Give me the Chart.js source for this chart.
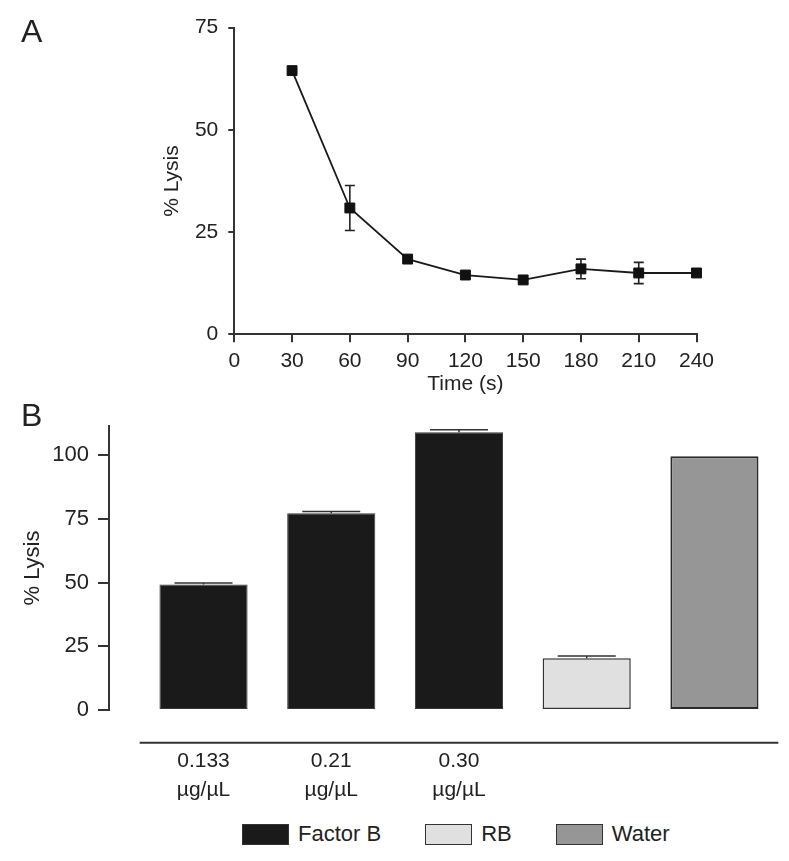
<!DOCTYPE html>
<html lang="en">
<head>
<meta charset="UTF-8">
<title>% Lysis</title>
<script src="https://cdn.jsdelivr.net/npm/chart.js"></script>
<style>
  body { margin: 0; background: #fff; font-family: 'Liberation Sans', Arial, sans-serif; color: #222; }
  .page { position: relative; width: 789px; height: 861px; overflow: hidden; }
  .panel-letter { position: absolute; left: 21px; font-size: 32px; line-height: 1; }
  #chartA { position: absolute; left: 0; top: 0; }
  #chartB { position: absolute; left: 0; top: 400px; }
  .legend { position: absolute; top: 821px; left: 242px; display: flex; align-items: center; font-size: 22px; }
  .legend-item { display: flex; align-items: center; margin-right: 44px; }
  .legend-box { width: 45px; height: 19px; border: 1.5px solid #333; margin-right: 9px; }
</style>
</head>
<body>
<div class="page">
  <canvas id="chartA" width="789" height="400"></canvas>
  <canvas id="chartB" width="789" height="410"></canvas>
  <div class="panel-letter" style="top: 15px;">A</div>
  <div class="panel-letter" style="top: 399px;">B</div>
  <div class="legend" id="legend"></div>
</div>

<script>
  // Panel A: lysis vs time
  const timeSec = [30, 60, 90, 120, 150, 180, 210, 240];
  const lysisTime = [64.5, 30.9, 18.4, 14.5, 13.3, 16.0, 15.0, 15.0];
  const lysisTimeErr = [0, 5.5, 0, 0, 0, 2.4, 2.6, 0];
  const timeTicks = [0, 30, 60, 90, 120, 150, 180, 210, 240];
  const lysisTicksA = [0, 25, 50, 75];

  // Panel B: lysis per treatment
  const concLabels = [['0.133', 'µg/µL'], ['0.21', 'µg/µL'], ['0.30', 'µg/µL'], '', ''];
  const factorB = [49.3, 77.2, 109.0];
  const factorBErr = [0.6, 0.7, 1.0];
  const rbValue = [20.3];
  const rbErr = [0.9];
  const waterValue = [99.6];
  const groupNames = ['Factor B', 'RB', 'Water'];
  const lysisTicksB = [0, 25, 50, 75, 100];

  const groupColors = ['#1a1a1a', '#e0e0e0', '#969696'];
  const ink = '#222';
  const axisColor = '#333';

  Chart.defaults.font.family = "'Liberation Sans', Arial, sans-serif";
  Chart.defaults.color = ink;

  function drawErrorBars(chart, opts) {
    const { ctx } = chart;
    const y = chart.scales.y;
    ctx.save();
    ctx.strokeStyle = opts.color;
    ctx.lineWidth = opts.lineWidth;
    chart.data.datasets.forEach((ds, di) => {
      if (!ds.errors) return;
      chart.getDatasetMeta(di).data.forEach((el, i) => {
        const err = ds.errors[i];
        if (!err) return;
        const v = ds.data[i].y;
        const top = y.getPixelForValue(v + err);
        const bottom = y.getPixelForValue(opts.upOnly ? v : v - err);
        const hw = opts.capWidth / 2;
        ctx.beginPath();
        ctx.moveTo(el.x, top);
        ctx.lineTo(el.x, bottom);
        ctx.moveTo(el.x - hw, top);
        ctx.lineTo(el.x + hw, top);
        if (!opts.upOnly) {
          ctx.moveTo(el.x - hw, bottom);
          ctx.lineTo(el.x + hw, bottom);
        }
        ctx.stroke();
      });
    });
    ctx.restore();
  }

  const errorBars = {
    id: 'errorBars',
    beforeDatasetsDraw(chart, args, opts) { if (opts.below) drawErrorBars(chart, opts); },
    afterDatasetsDraw(chart, args, opts) { if (!opts.below) drawErrorBars(chart, opts); }
  };

  // line under the category labels in panel B
  const baseRule = {
    id: 'baseRule',
    afterDraw(chart, args, opts) {
      const { ctx, chartArea } = chart;
      const x = chart.scales.x;
      const yPos = chartArea.bottom + opts.offset;
      ctx.save();
      ctx.strokeStyle = axisColor;
      ctx.lineWidth = 2;
      ctx.beginPath();
      ctx.moveTo(x.getPixelForValue(-0.5), yPos);
      ctx.lineTo(x.right, yPos);
      ctx.stroke();
      ctx.restore();
    }
  };

  const axisGrid = (len) => ({
    drawOnChartArea: false, drawTicks: true, tickLength: len,
    color: axisColor, tickColor: axisColor, tickWidth: 2, lineWidth: 2
  });
  const axisBorder = { display: true, color: axisColor, width: 2 };

  new Chart(document.getElementById('chartA'), {
    type: 'line',
    data: {
      datasets: [{
        data: timeSec.map((t, i) => ({ x: t, y: lysisTime[i] })),
        errors: lysisTimeErr,
        borderColor: '#1a1a1a',
        borderWidth: 1.8,
        tension: 0,
        pointStyle: 'rect',
        pointRadius: 7,
        pointBackgroundColor: '#111',
        pointBorderColor: '#111',
        pointBorderWidth: 1,
        clip: false
      }]
    },
    plugins: [errorBars],
    options: {
      responsive: false,
      animation: false,
      events: [],
      layout: { padding: { left: 160, right: 92.5, top: 27.7, bottom: 3 } },
      plugins: {
        legend: { display: false },
        tooltip: { enabled: false },
        errorBars: { below: true, color: ink, lineWidth: 1.6, capWidth: 10 }
      },
      scales: {
        x: {
          type: 'linear', min: 0, max: 240,
          afterBuildTicks: s => { s.ticks = timeTicks.map(v => ({ value: v })); },
          afterFit: s => { s.height = 62.7; },
          grid: axisGrid(8),
          border: axisBorder,
          ticks: { font: { size: 21 }, padding: 6, maxRotation: 0 },
          title: { display: true, text: 'Time (s)', font: { size: 21 }, padding: { top: 0, bottom: 0 } }
        },
        y: {
          min: 0, max: 75,
          afterBuildTicks: s => { s.ticks = lysisTicksA.map(v => ({ value: v })); },
          afterFit: s => { s.width = 74.3; },
          grid: axisGrid(6),
          border: axisBorder,
          ticks: { font: { size: 21 }, padding: 10 },
          title: { display: true, text: '% Lysis', font: { size: 21 }, padding: { top: 0, bottom: 0 } }
        }
      }
    }
  });

  const barCommon = { grouped: false, categoryPercentage: 0.69, barPercentage: 1, borderSkipped: false };

  new Chart(document.getElementById('chartB'), {
    type: 'bar',
    data: {
      datasets: [
        Object.assign({
          label: groupNames[0],
          data: factorB.map((v, i) => ({ x: i, y: v })),
          errors: factorBErr,
          backgroundColor: groupColors[0], borderColor: '#3a3a3a', borderWidth: 1
        }, barCommon),
        Object.assign({
          label: groupNames[1],
          data: rbValue.map((v, i) => ({ x: factorB.length + i, y: v })),
          errors: rbErr,
          backgroundColor: groupColors[1], borderColor: axisColor, borderWidth: 1.5
        }, barCommon),
        Object.assign({
          label: groupNames[2],
          data: waterValue.map((v, i) => ({ x: factorB.length + rbValue.length + i, y: v })),
          backgroundColor: groupColors[2], borderColor: '#2a2a2a', borderWidth: 2
        }, barCommon)
      ]
    },
    plugins: [errorBars, baseRule],
    options: {
      responsive: false,
      animation: false,
      events: [],
      layout: { padding: { left: 20, right: 10.7, top: 26, bottom: 0 } },
      plugins: {
        legend: { display: false },
        tooltip: { enabled: false },
        errorBars: { below: false, upOnly: true, color: axisColor, lineWidth: 1.5, capWidth: 58 },
        baseRule: { offset: 32.7 }
      },
      scales: {
        x: {
          type: 'linear', min: -0.74, max: 4.5, offset: false,
          afterBuildTicks: s => { s.ticks = concLabels.map((_, i) => ({ value: i })); },
          afterFit: s => { s.height = 100; },
          grid: { display: false, drawTicks: false, offset: false },
          border: { display: false },
          ticks: {
            callback: v => concLabels[v],
            font: { size: 21, lineHeight: 1.4 },
            padding: 36.5, maxRotation: 0, autoSkip: false
          }
        },
        y: {
          min: 0, max: 111.5,
          afterBuildTicks: s => { s.ticks = lysisTicksB.map(v => ({ value: v })); },
          afterFit: s => { s.width = 89; },
          grid: axisGrid(11),
          border: axisBorder,
          ticks: { font: { size: 22 }, padding: 9 },
          title: { display: true, text: '% Lysis', font: { size: 22 }, padding: { top: 0, bottom: 0 } }
        }
      }
    }
  });

  // legend for panel B
  const legend = document.getElementById('legend');
  groupNames.forEach((name, i) => {
    const item = document.createElement('div');
    item.className = 'legend-item';
    const box = document.createElement('span');
    box.className = 'legend-box';
    box.style.background = groupColors[i];
    const label = document.createElement('span');
    label.textContent = name;
    item.appendChild(box);
    item.appendChild(label);
    legend.appendChild(item);
  });
</script>
</body>
</html>
